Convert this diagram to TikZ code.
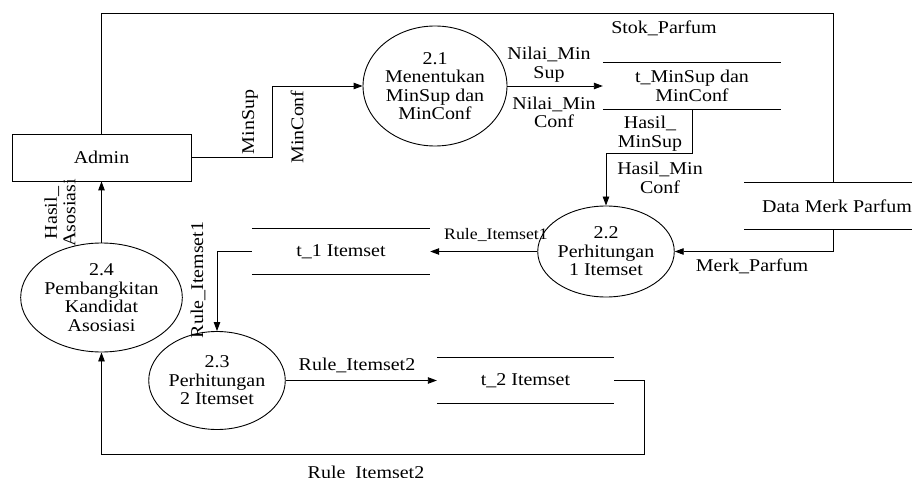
\documentclass[tikz,border=0pt]{standalone}
\usepackage{fontspec}
\setmainfont{Liberation Serif}[FakeStretch=1.11]
\usetikzlibrary{shapes.geometric,arrows.meta,calc}
\begin{document}
\begin{tikzpicture}[x=1pt,y=-1pt,
  every node/.style={font=\fontsize{18}{18.5}\selectfont, inner sep=0pt},
  line/.style={draw=black, line width=0.9pt},
  arr/.style={line, -{Triangle[length=9pt,width=6.5pt]}},
  proc/.style={ellipse, draw, line width=0.9pt, align=center, inner sep=0pt},
  store/.style={rectangle, minimum height=46pt, align=center},
  lbl/.style={align=center},
  small/.style={font=\fontsize{16}{17}\selectfont}
]
\useasboundingbox (0,0) rectangle (912,478);

% entities and processes
\node[draw, line width=0.9pt, minimum width=179pt, minimum height=47pt] (admin) at (101.5,157.5) {Admin};
\node[proc, minimum width=144pt, minimum height=120pt] (p21) at (435,86) {2.1\\Menentukan\\MinSup dan\\MinConf};
\node[proc, minimum width=112pt, minimum height=91pt] (p22) at (606,251.5) {2.2\\Perhitungan\\1 Itemset};
\node[proc, minimum width=120pt, minimum height=98pt] (p23) at (217,380.5) {2.3\\Perhitungan\\2 Itemset};
\node[proc, minimum width=133pt, minimum height=109pt] (p24) at (101.5,297.5) {2.4\\Pembangkitan\\Kandidat\\Asosiasi};

% data stores
\node[store, minimum width=178pt] (ms) at (692,86) {t\_MinSup dan\\MinConf};
\node[store, minimum width=185pt] (dm) at (837,206) {Data Merk Parfum};
\node[store, minimum width=178pt] (t1) at (341,251.5) {t\_1 Itemset};
\node[store, minimum width=177pt] (t2) at (525.5,380.5) {t\_2 Itemset};
\foreach \s in {ms,dm,t1,t2}
  \draw[line] (\s.north west) -- (\s.north east) (\s.south west) -- (\s.south east);

% connectors
\coordinate (k1) at (833,13);
\coordinate (k2) at (644,454);
\draw[line] (admin.north) |- (k1) -- (k1 |- dm.north);
\draw[arr] (admin.east) -- ++(81,0) |- (p21);
\draw[arr] (p21) -- (ms);
\draw[arr] (ms.south) -- ++(0,44) -| (p22);
\draw[arr] (k1 |- dm.south) |- (p22);
\draw[arr] (p22) -- (t1);
\draw[arr] (t1.west) -| (p23);
\draw[arr] (p23) -- (t2);
\draw[arr] (t2.east) -| (k2) -| (p24);
\draw[arr] (p24) -- (admin);

% labels
\node[lbl] (lstok) at (664,28) {Stok\_Parfum};
\node[rotate=90] (lminsup) at (250,122) {MinSup};
\node[rotate=90] (lminconf) at (297,127) {MinConf};
\node[lbl] (lnms) at (549,64.5) {Nilai\_Min\\Sup};
\node[lbl] (lnmc) at (554,112.5) {Nilai\_Min\\Conf};
\node[lbl] (lhms) at (650,133.5) {Hasil\_\\MinSup};
\node[lbl] (lhmc) at (660,178) {Hasil\_Min\\Conf};
\node (lmerk) at (752,266) {Merk\_Parfum};
\node[small] (lr1) at (496,235) {Rule\_Itemset1};
\node[rotate=90] (lr1v) at (198,280) {Rule\_Itemset1};
\node (lr2) at (357,365) {Rule\_Itemset2};
\node (lr2b) at (366,473) {Rule\_Itemset2};
\node[rotate=90, align=center] (lha) at (60,213) {Hasil\_\\Asosiasi};
\end{tikzpicture}
\end{document}
